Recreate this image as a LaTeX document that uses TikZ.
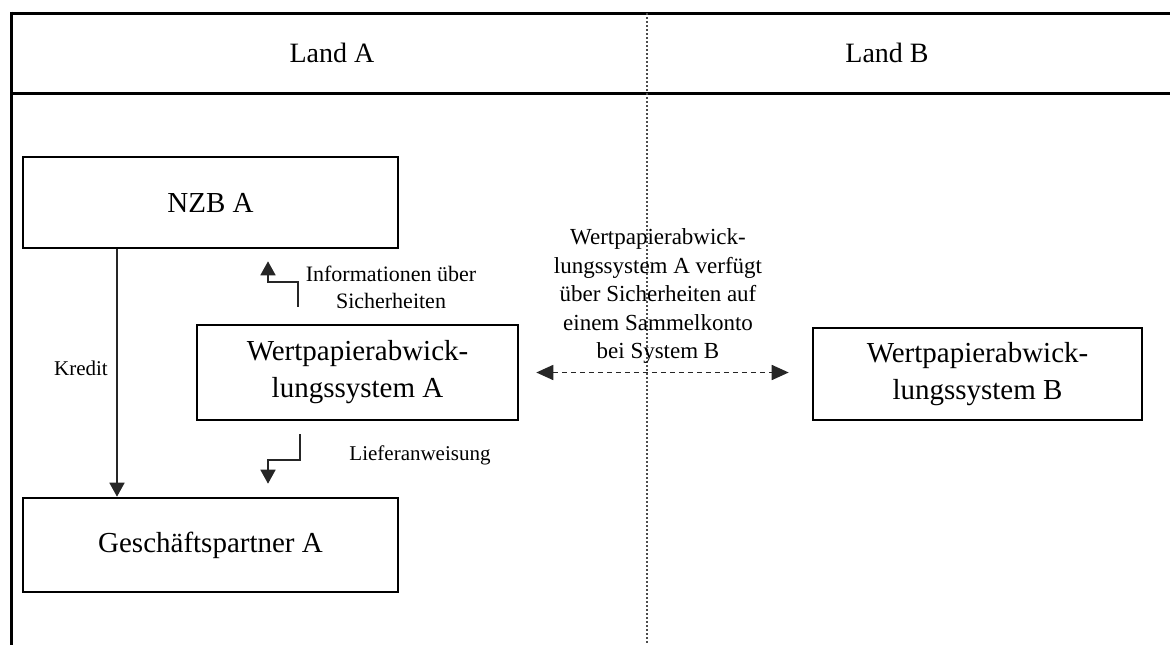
\documentclass[tikz,border=0pt]{standalone}
\usepackage{fontspec}
\setmainfont{Liberation Serif}
\usetikzlibrary{arrows.meta}
\begin{document}
\begin{tikzpicture}[x=1pt,y=-1pt,
  box/.style={draw,line width=2.6pt,inner sep=0pt,align=center,font=\fontsize{29}{37}\selectfont},
  lbl/.style={inner sep=0pt,align=center,font=\fontsize{21}{27}\selectfont},
  frame/.style={line width=3pt},
  arr/.style={line width=1.7pt,draw=black!85,-{Triangle[width=15pt,length=14pt]}},
  darr/.style={line width=1.7pt,draw=black!85,dash pattern=on 5pt off 4pt,{Triangle[width=15pt,length=17pt]}-{Triangle[width=15pt,length=17pt]}}]
\useasboundingbox (0,0) rectangle (1170,645);
% frame
\draw[frame] (10,13) -- (1170,13);
\draw[frame] (10,93) -- (1170,93);
\draw[frame] (11,11.5) -- (11,645);
\draw[line width=1.3pt,draw=black!70,dash pattern=on 2pt off 2pt] (647,13) -- (647,645);
\node[anchor=base,inner sep=0pt,font=\fontsize{28}{34}\selectfont] (landA) at (332,62) {Land A};
\node[anchor=base,inner sep=0pt,font=\fontsize{28}{34}\selectfont] (landB) at (887,62) {Land B};
% boxes
\node[box,minimum width=375pt,minimum height=91pt] (nzb) at (210.5,202.5) {NZB A};
\node[box,minimum width=321pt,minimum height=95pt] (wsa) at (357.5,372.5) {Wertpapierabwick-\\lungssystem A};
\node[box,minimum width=375pt,minimum height=94pt] (gp) at (210.5,545) {Geschäftspartner A};
\node[box,minimum width=329pt,minimum height=92pt] (wsb) at (977.5,374) {Wertpapierabwick-\\lungssystem B};
% Kredit
\coordinate (k) at (117,0);
\draw[arr] (nzb.south -| k) -- (gp.north -| k);
\node[lbl,anchor=base] (kredit) at (81,375) {Kredit};
% Informationen
\coordinate (i1) at (298,282);
\coordinate (i2) at (268,0);
\draw[arr] ([yshift=17pt]wsa.north -| i1) -- (i1) -- (i1 -| i2) -- ([yshift=-12pt]nzb.south -| i2);
\node[lbl,font=\fontsize{22}{27}\selectfont] (info) at (391,287) {Informationen über\\Sicherheiten};
% Lieferanweisung
\coordinate (l1) at (300,460);
\coordinate (l2) at (268,0);
\draw[arr] ([yshift=-13pt]wsa.south -| l1) -- (l1) -- (l1 -| l2) -- ([yshift=13pt]gp.north -| l2);
\node[lbl,anchor=base] (liefer) at (420,460) {Lieferanweisung};
% double arrow
\draw[darr] ([xshift=17pt]wsa.east) -- ([xshift=-23pt]wsb.west |- wsa.east);
\node[lbl,font=\fontsize{23}{28.5}\selectfont] (mid) at (658,296) {Wertpapierabwick-\\lungssystem A verfügt\\über Sicherheiten auf\\einem Sammelkonto\\bei System B};
\end{tikzpicture}
\end{document}
